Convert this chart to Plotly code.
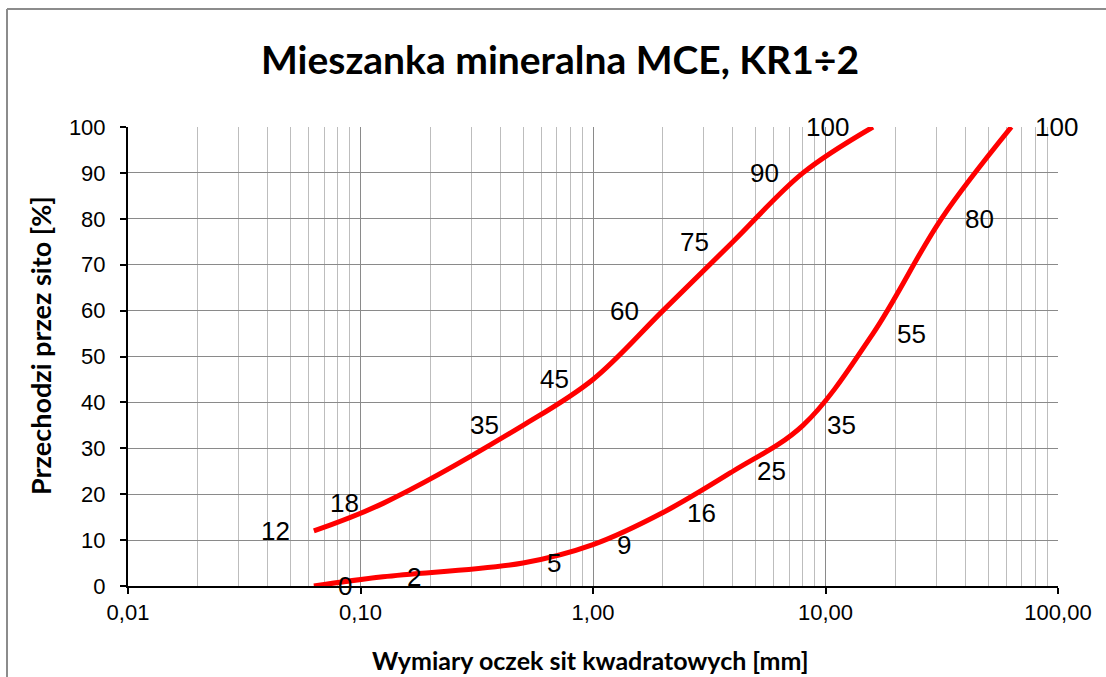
import numpy as np
import plotly.graph_objects as go

# Upper envelope (sieve mm, passing %)
sieve_upper = [0.063, 0.125, 0.5, 1, 2, 4, 8, 16]
pass_upper = [12, 18, 35, 45, 60, 75, 90, 100]
# Lower envelope
sieve_lower = [0.063, 0.125, 0.5, 1, 2, 4, 8, 16, 31.5, 63]
pass_lower = [0, 2, 5, 9, 16, 25, 35, 55, 80, 100]

title_text = "Mieszanka mineralna MCE, KR1÷2"
x_title = "Wymiary oczek sit kwadratowych [mm]"
y_title = "Przechodzi przez sito [%]"

W, H = 1106, 677
L, R, T, B = 128, 48, 127, 91
pw, ph = W - L - R, H - T - B

fig = go.Figure()
for xs, ys in [(sieve_upper, pass_upper), (sieve_lower, pass_lower)]:
    fig.add_trace(go.Scatter(x=xs, y=ys, mode="lines",
                             line=dict(color="#FF0000", width=5, shape="spline", smoothing=1),
                             cliponaxis=False, showlegend=False, hoverinfo="skip"))

annotations = []
lab_font = dict(family="Liberation Sans, Arial", size=26, color="black")
for xv, yv in zip(sieve_upper, pass_upper):
    annotations.append(dict(x=np.log10(xv), y=yv, xref="x", yref="y", text=str(yv),
                            showarrow=False, xanchor="right", yanchor="middle",
                            xshift=-22, font=lab_font))
for xv, yv in zip(sieve_lower, pass_lower):
    annotations.append(dict(x=np.log10(xv), y=yv, xref="x", yref="y", text=str(yv),
                            showarrow=False, xanchor="left", yanchor="middle",
                            xshift=22, font=lab_font))

# Axis titles
annotations.append(dict(x=(590 - L) / pw, y=(586 - 660) / ph,
                        xref="paper", yref="paper", text="<b>" + x_title + "</b>",
                        showarrow=False, xanchor="center", yanchor="middle",
                        font=dict(family="Lato", size=25, color="black")))
annotations.append(dict(x=(40 - L) / pw, y=(586 - 346) / ph,
                        xref="paper", yref="paper", text="<b>" + y_title + "</b>",
                        showarrow=False, xanchor="center", yanchor="middle", textangle=-90,
                        font=dict(family="Lato", size=27, color="black")))

shapes = [
    dict(type="line", xref="paper", yref="paper", x0=(7 - L) / pw, x1=(7 - L) / pw,
         y0=(586 - 9) / ph, y1=(586 - 700) / ph, line=dict(color="#8C8C8C", width=2)),
    dict(type="line", xref="paper", yref="paper", x0=(7 - L) / pw, x1=(1120 - L) / pw,
         y0=(586 - 9) / ph, y1=(586 - 9) / ph, line=dict(color="#8C8C8C", width=2)),
]

fig.update_layout(
    width=W, height=H,
    margin=dict(l=L, r=R, t=T, b=B),
    paper_bgcolor="white", plot_bgcolor="white",
    separators=", ",
    title=dict(text="<b>" + title_text + "</b>", x=560 / W, xanchor="center",
               y=1 - 60 / H, yanchor="middle", yref="container",
               font=dict(family="Lato", size=39, color="black")),
    annotations=annotations, shapes=shapes,
    xaxis=dict(type="log", range=[-2, 2], dtick=1, tickformat=".2f",
               showgrid=True, gridcolor="#8A8A8A", gridwidth=1,
               minor=dict(dtick="D1", showgrid=True, gridcolor="#BDBDBD", gridwidth=1.3,
                          ticks=""),
               showline=True, linecolor="black", linewidth=2,
               ticks="outside", ticklen=6, tickcolor="black", tickwidth=2,
               tickfont=dict(family="Liberation Sans, Arial", size=22, color="black"),
               zeroline=False, layer="below traces"),
    yaxis=dict(range=[0, 100], dtick=10, showgrid=True, gridcolor="#8A8A8A", gridwidth=1,
               showline=True, linecolor="black", linewidth=2,
               ticks="outside", ticklen=6, tickcolor="black", tickwidth=2,
               ticklabelstandoff=10,
               tickfont=dict(family="Liberation Sans, Arial", size=22, color="black"),
               zeroline=False, layer="below traces"),
)

fig.write_html("out.html", config={"displayModeBar": False},
               post_script="document.body.style.margin='0';")
